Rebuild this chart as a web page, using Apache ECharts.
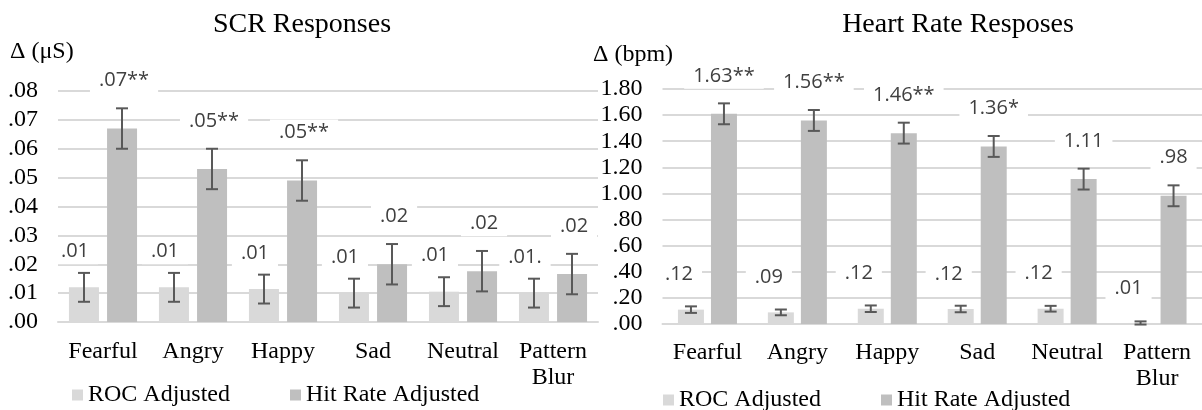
<!DOCTYPE html>
<html>
<head>
<meta charset="utf-8">
<script src="https://cdn.jsdelivr.net/npm/echarts@6/dist/echarts.min.js"></script>
<style>
  html, body { margin: 0; padding: 0; background: #fff; }
  #chart { width: 1202px; height: 410px; }
</style>
</head>
<body>
<div id="chart"></div>
<script>
// categories and legend
const categories = ['Fearful', 'Angry', 'Happy', 'Sad', 'Neutral', 'Pattern\nBlur']
const seriesNames = ['ROC Adjusted', 'Hit Rate Adjusted']

// SCR responses (µS)
const scrRoc = [0.012, 0.012, 0.0114, 0.010, 0.0105, 0.010]
const scrRocErr = [0.005, 0.005, 0.005, 0.005, 0.005, 0.005]
const scrRocLabels = ['.01', '.01', '.01', '.01', '.01', '.01.']
const scrHit = [0.067, 0.053, 0.049, 0.020, 0.0176, 0.0166]
const scrHitErr = [0.007, 0.007, 0.007, 0.007, 0.007, 0.007]
const scrHitLabels = ['.07**', '.05**', '.05**', '.02', '.02', '.02']

// Heart rate responses (bpm)
const hrRoc = [0.11, 0.089, 0.117, 0.115, 0.117, 0.008]
const hrRocErr = [0.025, 0.022, 0.025, 0.025, 0.022, 0.012]
const hrRocLabels = ['.12', '.09', '.12', '.12', '.12', '.01']
const hrHit = [1.61, 1.559, 1.462, 1.36, 1.11, 0.982]
const hrHitErr = [0.08, 0.08, 0.08, 0.08, 0.08, 0.08]
const hrHitLabels = ['1.63**', '1.56**', '1.46**', '1.36*', '1.11', '.98']

const colors = ['#d9d9d9', '#bfbfbf']
const serif = '"Liberation Serif", "Times New Roman", serif'
const sans = '"Open Sans", sans-serif'

// strip leading zero like ".08"
const tickFmt = (v) => v.toFixed(2).replace(/^0/, '')

const barSeries = (name, values, labels, grid, color, width, distance, dx) => ({
  type: 'bar',
  name,
  xAxisIndex: grid,
  yAxisIndex: grid,
  data: values,
  barWidth: width,
  barGap: '27%',
  itemStyle: { color },
  label: {
    show: true,
    position: 'top',
    distance,
    offset: [dx, 0],
    formatter: (p) => labels[p.dataIndex],
    color: '#404040',
    fontFamily: sans,
    fontSize: 20,
    lineHeight: 22,
    backgroundColor: '#fff',
    padding: [2, 9],
  },
})

// I-beam error bars on top of the grouped bars
const errorSeries = (values, errors, grid, side, width, gap) => ({
  type: 'custom',
  xAxisIndex: grid,
  yAxisIndex: grid,
  silent: true,
  z: 5,
  data: values.map((v, i) => [i, v, errors[i]]),
  renderItem: (params, api) => {
    const i = api.value(0)
    const v = api.value(1)
    const e = api.value(2)
    const top = api.coord([i, v + e])
    const bot = api.coord([i, v - e])
    const x = top[0] + side * (width + gap) / 2
    const cap = 6
    const style = { stroke: '#595959', lineWidth: 2, fill: null }
    return {
      type: 'group',
      children: [
        { type: 'line', shape: { x1: x, y1: top[1], x2: x, y2: bot[1] }, style },
        { type: 'line', shape: { x1: x - cap, y1: top[1], x2: x + cap, y2: top[1] }, style },
        { type: 'line', shape: { x1: x - cap, y1: bot[1], x2: x + cap, y2: bot[1] }, style },
      ],
    }
  },
})

const xAxis = (grid, margin) => ({
  type: 'category',
  gridIndex: grid,
  data: categories,
  axisTick: { show: false },
  axisLine: { lineStyle: { color: '#d9d9d9', width: 2 } },
  axisLabel: { color: '#000', fontFamily: serif, fontSize: 24, lineHeight: 26, margin, interval: 0 },
})

const yAxis = (grid, max, interval) => ({
  type: 'value',
  gridIndex: grid,
  min: 0,
  max,
  interval,
  axisLine: { show: false },
  axisTick: { show: false },
  axisLabel: { color: '#000', fontFamily: serif, fontSize: 24, margin: 20, formatter: tickFmt },
  splitLine: { lineStyle: { color: '#d9d9d9', width: 2 } },
})

const legend = (left, top) => ({
  data: seriesNames,
  left,
  top,
  icon: 'rect',
  itemWidth: 11,
  itemHeight: 11,
  itemGap: 60,
  selectedMode: false,
  textStyle: { color: '#000', fontFamily: serif, fontSize: 24 },
})

const titleText = (text, left, top, size, align) => ({
  text,
  left,
  top,
  textAlign: align,
  padding: 0,
  textStyle: { color: '#000', fontFamily: serif, fontSize: size, fontWeight: 'normal' },
})

const chart = echarts.init(document.getElementById('chart'))
chart.setOption({
  animation: false,
  color: colors,
  title: [
    titleText('SCR Responses', 302, 11, 28, 'center'),
    titleText('Heart Rate Resposes', 958, 11, 28, 'center'),
    titleText('Δ (μS)', 10, 40, 24, 'left'),
    titleText('Δ (bpm)', 593, 43, 24, 'left'),
  ],
  legend: [legend(67, 378), legend(658, 383)],
  grid: [
    { left: 58, top: 91, width: 540, height: 231 },
    { left: 662.5, top: 89, width: 540, height: 235 },
  ],
  xAxis: [xAxis(0, 17), xAxis(1, 16)],
  yAxis: [yAxis(0, 0.08, 0.01), yAxis(1, 1.8, 0.2)],
  series: [
    barSeries(seriesNames[0], scrRoc, scrRocLabels, 0, colors[0], 30, 23, -9),
    barSeries(seriesNames[1], scrHit, scrHitLabels, 0, colors[1], 30, 35, 2),
    barSeries(seriesNames[0], hrRoc, hrRocLabels, 1, colors[0], 26, 22, -12),
    barSeries(seriesNames[1], hrHit, hrHitLabels, 1, colors[1], 26, 25, 0),
    errorSeries(scrRoc, scrRocErr, 0, -1, 30, 8),
    errorSeries(scrHit, scrHitErr, 0, 1, 30, 8),
    errorSeries(hrRoc, hrRocErr, 1, -1, 26, 7),
    errorSeries(hrHit, hrHitErr, 1, 1, 26, 7),
  ],
})
</script>
</body>
</html>
